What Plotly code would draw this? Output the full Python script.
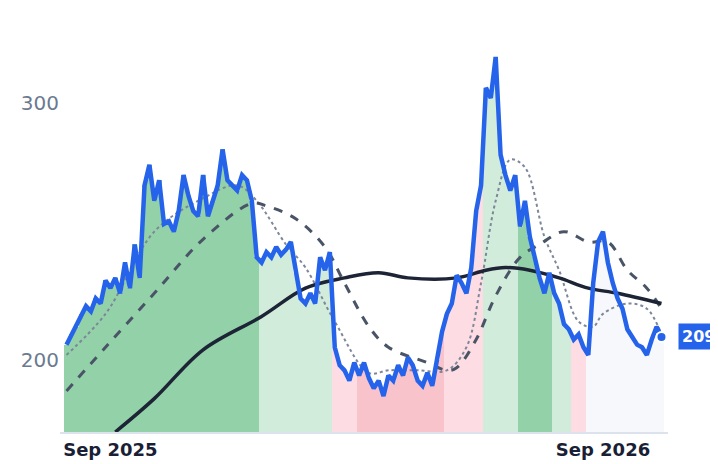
import pandas as pd
import plotly.graph_objects as go

# price sampled every 3 days
price = [206, 210, 213, 218, 221, 219, 224, 222, 231, 228, 232, 226, 238,
         228, 245, 232, 268, 276, 262, 270, 253, 254, 250, 258, 272, 264,
         258, 256, 272, 256, 262, 268, 282, 270, 268, 266, 272, 270, 262,
         240, 238, 242, 240, 244, 241, 243, 246, 234, 224, 222, 226, 222,
         240, 235, 242, 205, 198, 196, 192, 199, 194, 199, 193, 189, 192,
         186, 194, 192, 198, 194, 201, 198, 192, 190, 195, 190, 200, 211,
         218, 222, 233, 230, 226, 236, 258, 268, 306, 302, 318, 280, 272,
         266, 272, 252, 262, 248, 240, 232, 226, 234, 226, 222, 214, 212,
         208, 210, 205, 202, 230, 246, 250, 238, 230, 224, 220, 212, 209,
         206, 205, 202, 208, 213, 209]

# regime runs: (colour key, length)
regime_runs = [("up", 40), ("up_soft", 15), ("down_soft", 5), ("down", 18),
               ("down_soft", 8), ("up_soft", 7), ("up", 7), ("up_soft", 4),
               ("down_soft", 3), ("flat", 16)]
regime_colors = {"up": "#93d1a9", "up_soft": "#d2ecdc", "down_soft": "#fddde3",
                 "down": "#f9c3cc", "flat": "#f6f8fb"}

# moving averages: (index, value)
ma_long_i = [10, 18, 28, 40, 49, 57, 64, 70, 80, 86, 90, 95, 101, 107, 113, 122]
ma_long_v = [172, 185, 204, 217, 228, 232, 234, 232, 232, 235, 236, 235, 232, 228, 226, 222]
ma_mid_i = [0, 8, 18, 28, 38, 41, 47, 53, 57, 62, 66, 74, 78, 80, 84, 88, 93, 97,
            102, 107, 111, 115, 119, 122]
ma_mid_v = [188, 205, 226, 247, 261, 260, 255, 244, 230, 213, 205, 199, 196, 197,
            208, 225, 240, 245, 250, 246, 246, 235, 228, 220]
ma_short_i = [0, 8, 18, 28, 35, 39, 45, 49, 55, 62, 66, 72, 78, 82, 85, 88, 91, 94,
              98, 101, 105, 108, 110, 115, 119, 122]
ma_short_v = [202, 218, 250, 263, 268, 262, 245, 236, 215, 195, 196, 196, 196, 205,
              230, 262, 278, 275, 248, 235, 215, 213, 218, 222, 220, 210]

dates = pd.date_range("2025-08-01", periods=len(price), freq="3D")
colors = [regime_colors[k] for k, n in regime_runs for _ in range(n)]
base = 172

fig = go.Figure()
fig.add_trace(go.Bar(x=dates, y=[p - base for p in price], base=base,
                     marker=dict(color=colors, line=dict(width=0)),
                     width=3 * 86400000, hoverinfo="skip"))
fig.add_trace(go.Scatter(x=dates[ma_short_i], y=ma_short_v, mode="lines",
                         line=dict(color="#7d8799", width=2, dash="dot", shape="spline")))
fig.add_trace(go.Scatter(x=dates[ma_mid_i], y=ma_mid_v, mode="lines",
                         line=dict(color="#4a5467", width=3, dash="dash", shape="spline")))
fig.add_trace(go.Scatter(x=dates[ma_long_i], y=ma_long_v, mode="lines",
                         line=dict(color="#1c2436", width=3.5, shape="spline")))
fig.add_trace(go.Scatter(x=dates, y=price, mode="lines",
                         line=dict(color="#2563eb", width=4.5)))
fig.add_trace(go.Scatter(x=[dates[-1]], y=[price[-1]], mode="markers",
                         marker=dict(color="#2563eb", size=10,
                                     line=dict(color="white", width=2))))

fig.add_annotation(x=1, xref="paper", y=price[-1], yref="y", xanchor="left",
                   xshift=10, text="<b>%d</b>" % price[-1], showarrow=False,
                   font=dict(color="white", size=16, family="DejaVu Sans"),
                   bgcolor="#2563eb", borderpad=3)

fig.update_layout(
    width=718, height=464, showlegend=False, bargap=0,
    plot_bgcolor="white", paper_bgcolor="white",
    margin=dict(l=52, r=58, t=13, b=40),
    font=dict(family="DejaVu Sans"),
)
fig.update_xaxes(range=[dates[0] - pd.Timedelta(days=4), dates[-1] + pd.Timedelta(days=4)],
                 tickvals=[dates[9], dates[110]],
                 ticktext=["<b>Sep 2025</b>", "<b>Sep 2026</b>"],
                 tickfont=dict(size=18, color="#1a1f36"),
                 showgrid=False, showline=True, linecolor="#dde3ec", linewidth=2,
                 ticks="")
fig.update_yaxes(range=[base, 332], tickvals=[200, 300],
                 tickfont=dict(size=20, color="#6b7a90"),
                 showgrid=False, zeroline=False, ticks="")

fig.write_html("out.html")
